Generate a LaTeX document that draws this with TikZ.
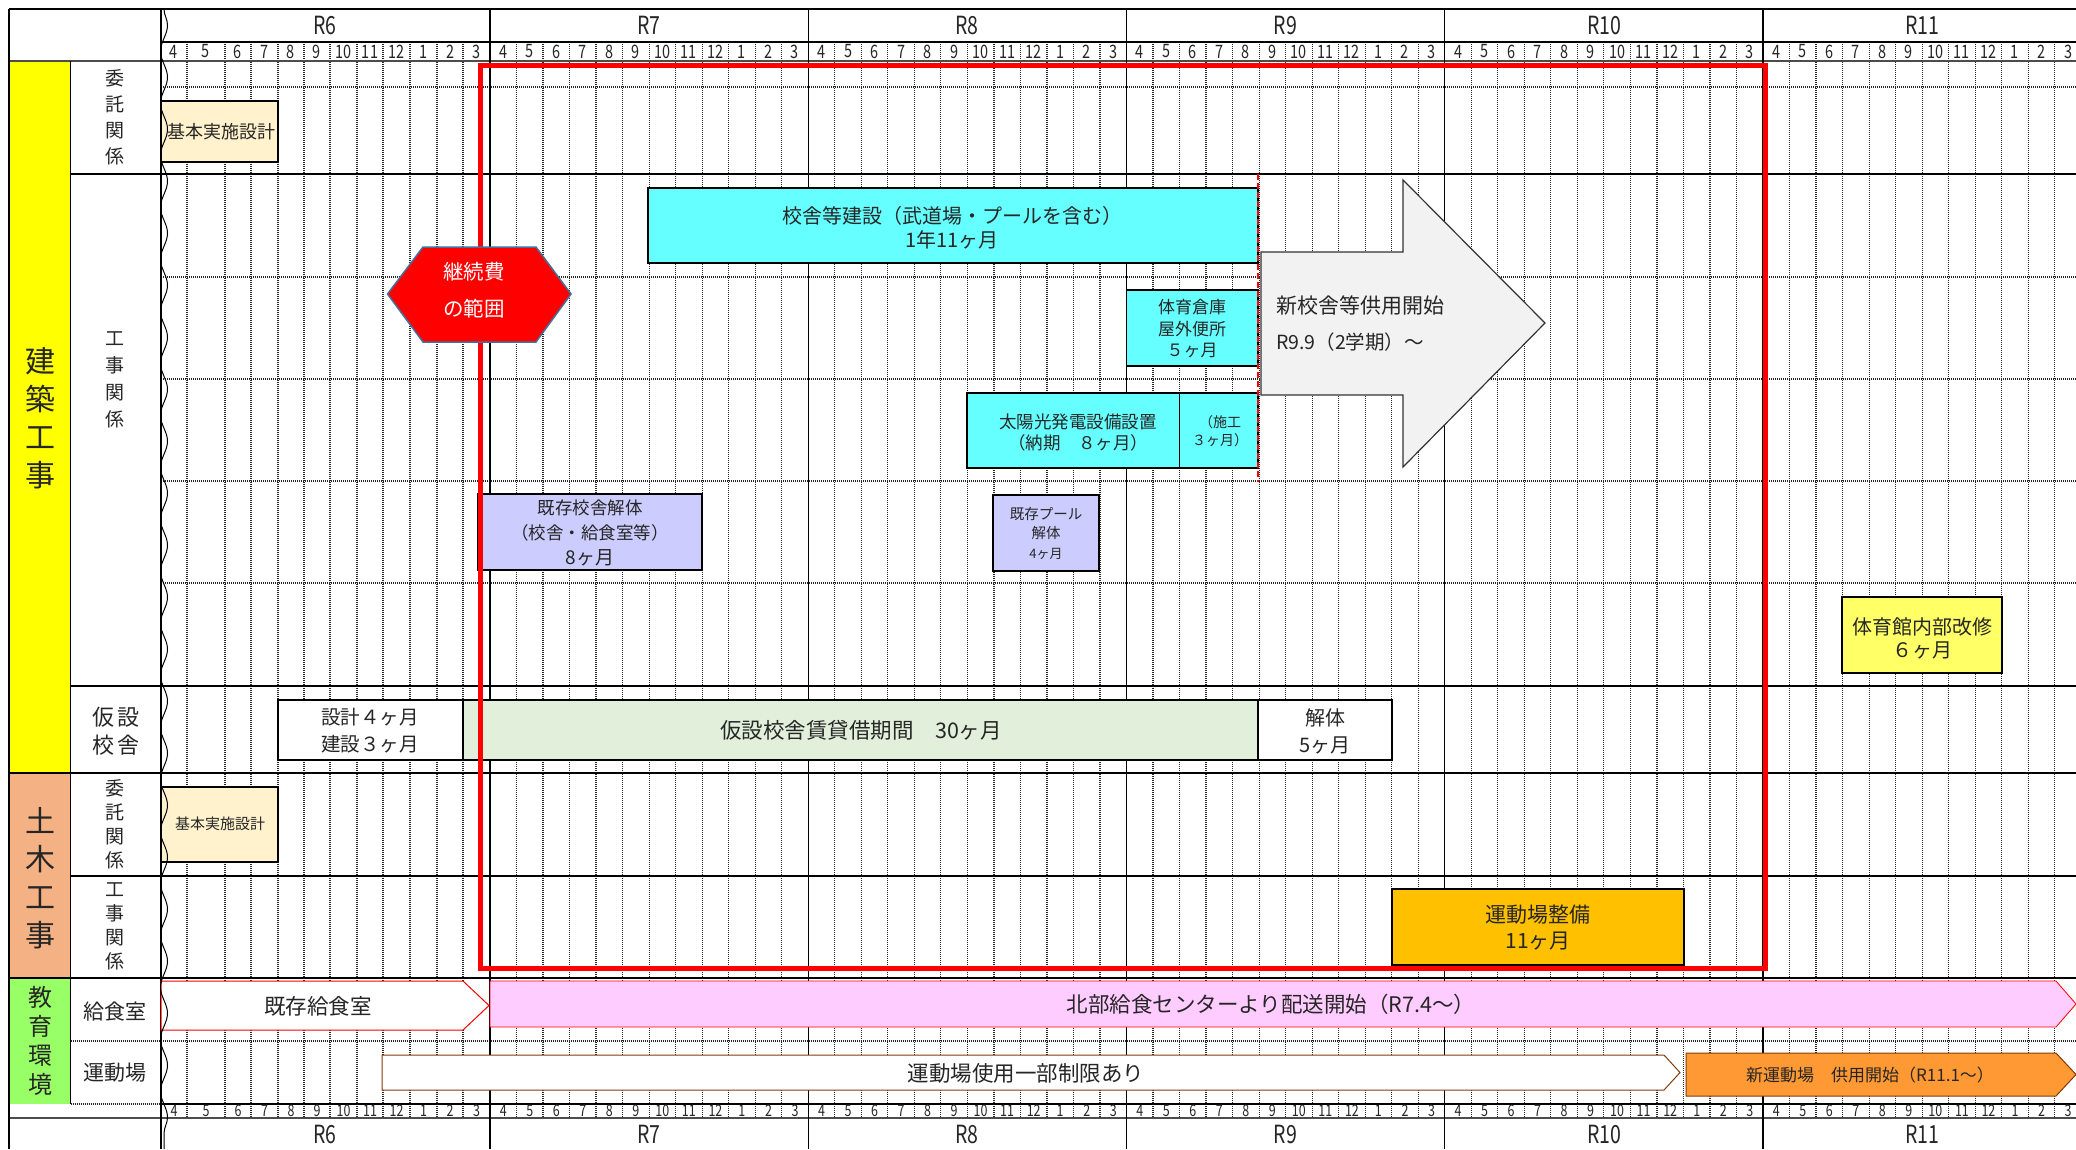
\documentclass[tikz,border=0pt]{standalone}
\usepackage{fontspec}
\setmainfont{Noto Sans CJK JP}
\newfontfamily\narrowfont[FakeStretch=0.78]{Noto Sans CJK JP}
\usetikzlibrary{decorations.pathmorphing}
\newcommand\fsz[2]{\fontsize{#1}{#2}\selectfont}
\definecolor{cYellow}{HTML}{FFFF00}
\definecolor{cSalmon}{HTML}{F4B183}
\definecolor{cGreen}{HTML}{99FF66}
\definecolor{cTan}{HTML}{FFF2CC}
\definecolor{cCyan}{HTML}{66FFFF}
\definecolor{cLav}{HTML}{CCCCFF}
\definecolor{cLgreen}{HTML}{E2EFDA}
\definecolor{cLyellow}{HTML}{FFFF66}
\definecolor{cGold}{HTML}{FFC000}
\definecolor{cPink}{HTML}{FFCCFF}
\definecolor{cOrange}{HTML}{FF9933}
\definecolor{cBrown}{HTML}{843C0C}
\definecolor{cHexb}{HTML}{41719C}
\definecolor{cArrow}{HTML}{F2F2F2}
\definecolor{cTxt}{HTML}{262626}
\begin{document}
\begin{tikzpicture}[x=1pt,y=-1pt,
  dotl/.style={draw=black!85,line width=1.2pt,dash pattern=on 1pt off 1pt},
  solidl/.style={draw=black,line width=1.2pt},
  thickl/.style={draw=black!70,line width=2pt},
  bar/.style={draw=black,line width=1.2pt},
  txt/.style={align=center,inner sep=0pt,text=cTxt},
  mnum/.style={inner sep=0pt,text=cTxt,font=\narrowfont\fsz{18.5}{18.5}},
  mnumb/.style={inner sep=0pt,text=cTxt,font=\narrowfont\fsz{16}{16}},
  yr/.style={inner sep=0pt,text=cTxt,font=\narrowfont\fsz{25}{25}}]
\useasboundingbox (0,0) rectangle (2076,1149);
\clip (0,0) rectangle (2076,1149);
\fill[white] (0,0) rectangle (2076,1149);
% left category colours
\fill[cYellow] (9,61) rectangle (70.5,773);
\fill[cSalmon] (9,773) rectangle (70.5,978);
\fill[cGreen] (9,978) rectangle (70.5,1104);
% month grid (dotted)
\foreach \x in {187,225,251,278,304,330,357,383,410,437,463}
  \draw[dotl] (\x,42) -- (\x,1118);
\foreach \k in {0,...,4}
  \foreach \j in {1,...,11}
    \draw[dotl] ({490+318.25*\k+26.52*\j},42) -- ({490+318.25*\k+26.52*\j},1118);
\foreach \y in {87,277,379,481,583}
  \draw[dotl] (161,\y) -- (2076,\y);
\draw[dotl] (70.5,1041) -- (2076,1041);
\draw[dotl] (70.5,1104) -- (161,1104);
% solid lines
\draw[solidl] (9,9) -- (2076,9);
\draw[solidl] (161,42) -- (2076,42);
\draw[thickl] (9,61) -- (2076,61);
\draw[solidl] (70.5,174) -- (2076,174);
\draw[solidl] (70.5,686) -- (2076,686);
\draw[solidl] (9,773) -- (2076,773);
\draw[solidl] (70.5,876) -- (2076,876);
\draw[solidl] (9,978) -- (2076,978);
\draw[solidl] (161,1104) -- (2076,1104);
\draw[thickl] (9,1118) -- (2076,1118);
\draw[solidl] (9,9) -- (9,1149);
\draw[solidl] (70.5,61) -- (70.5,1104);
\draw[solidl] (161,9) -- (161,1149);
\foreach \x in {490,808.25,1126.5,1444.75,1763}
  \draw[solidl] (\x,9) -- (\x,1149);
% month numbers
\foreach \x/\m [count=\i] in {174/4,206/5,238/6,264.5/7,291/8,317/9,343.5/10,370/11,396.5/12,423.5/1,450/2,476.5/3}{
  \node[mnum] (tm0-\i) at (\x,51.5) {\m};
  \node[mnumb] (bm0-\i) at (\x,1111) {\m};
}
\foreach \k in {1,...,5}{
  \foreach \m [count=\j from 0] in {4,5,6,7,8,9,10,11,12,1,2,3}{
    \pgfmathsetmacro\xx{490+318.25*(\k-1)+26.52*(\j+0.5)}
    \node[mnum] (tm\k-\j) at (\xx,51.5) {\m};
    \node[mnumb] (bm\k-\j) at (\xx,1111) {\m};
  }
}
% year labels
\foreach \x/\r [count=\i] in {325/R6,649/R7,967/R8,1285.5/R9,1604/R10,1922/R11}{
  \node[yr] (ty\i) at (\x,25.5) {\r};
  \node[yr] (by\i) at (\x,1134) {\r};
}
% left labels
\node[txt,font=\fsz{30}{38}] (kenchiku) at (40,418) {建\\築\\工\\事};
\node[txt,font=\fsz{30}{38}] (doboku) at (40,878) {土\\木\\工\\事};
\node[txt,font=\fsz{24}{29}] (kyoiku) at (40,1041) {教\\育\\環\\境};
\node[txt,font=\fsz{19}{26}] (itaku1) at (115,117) {委\\託\\関\\係};
\node[txt,font=\fsz{19}{27}] (koji1) at (115,380) {工\\事\\関\\係};
\node[txt,font=\fsz{22}{28}] (kasetsu) at (116,731) {仮\hspace{4pt}設\\校\hspace{4pt}舎};
\node[txt,font=\fsz{19}{24}] (itaku2) at (115,824) {委\\託\\関\\係};
\node[txt,font=\fsz{19}{24}] (koji2) at (115,926) {工\\事\\関\\係};
\node[txt,font=\fsz{21}{21}] (kyushoku) at (115,1012) {給食室};
\node[txt,font=\fsz{21}{21}] (undojo) at (115,1073) {運動場};
% bars
\draw[bar,fill=cTan] (161,101) rectangle (278,162);
\node[txt,font=\fsz{18}{18}] (kihon1) at (221,131.5) {基本実施設計};
\draw[bar,fill=cCyan] (648,188) rectangle (1258,263);
\node[txt,font=\fsz{20}{24}] (kosha) at (952,228) {校舎等建設（武道場・プールを含む）\\1年11ヶ月};
\draw[bar,fill=cCyan] (1126.5,290) rectangle (1258,366);
\node[txt,font=\fsz{17}{21.5}] (soko) at (1192,329) {体育倉庫\\屋外便所\\５ヶ月};
\draw[bar,fill=cCyan] (967,393) rectangle (1258,468);
\draw[draw=black,line width=0.6pt] (1179.5,393) -- (1179.5,468);
\node[txt,font=\fsz{17.5}{21}] (taiyo) at (1078,432) {太陽光発電設備設置\\（納期　８ヶ月）};
\node[txt,font=\fsz{14}{18}] (seko) at (1220,431) {（施工\\３ヶ月）};
\draw[bar,fill=cLav] (478,494) rectangle (702,570);
\node[txt,font=\fsz{17.5}{25}] (kaitai) at (590,533) {既存校舎解体\\（校舎・給食室等）\\{\fsz{19}{25}8ヶ月}};
\draw[bar,fill=cLav] (993,495) rectangle (1099,571);
\node[txt,font=\fsz{14.5}{19.5}] (pool) at (1046,533) {既存プール\\解体\\{\fsz{13}{19.5}4ヶ月}};
\draw[bar,fill=cLyellow] (1842,597) rectangle (2002,673);
\node[txt,font=\fsz{20}{23}] (taiikukan) at (1922,638) {体育館内部改修\\６ヶ月};
\draw[bar,fill=white] (278,700) rectangle (463,760);
\node[txt,font=\fsz{19.5}{27}] (sekkei) at (370,731) {設計４ヶ月\\建設３ヶ月};
\draw[bar,fill=cLgreen] (463,700) rectangle (1258,760);
\node[txt,font=\fsz{21.5}{21.5}] (chintai) at (861,730) {仮設校舎賃貸借期間　30ヶ月};
\draw[bar,fill=white] (1258,700) rectangle (1392,760);
\node[txt,font=\fsz{20}{27}] (kaitai2) at (1325,731) {解体\\5ヶ月};
\draw[bar,fill=cTan] (161,787) rectangle (278,862);
\node[txt,font=\fsz{15}{15}] (kihon2) at (220,824) {基本実施設計};
\draw[bar,fill=cGold] (1392,889) rectangle (1684,965);
\node[txt,font=\fsz{21}{26}] (seibi) at (1538,928) {運動場整備\\11ヶ月};
% red frame
\draw[red,line width=5pt] (480,65) rectangle (1765,968);
% dashed red line
\draw[red,line width=1.8pt,dash pattern=on 6pt off 3pt] (1258,174) -- (1258,482);
% hexagon
\draw[fill=red,draw=cHexb,line width=1.5pt] (387.5,294) -- (423,247) -- (536,247) -- (571,294) -- (536,342) -- (423,342) -- cycle;
\node[txt,text=white,font=\fsz{20.5}{36.5}] (keizoku) at (474,290) {継続費\\の範囲};
% big arrow
\draw[fill=cArrow,draw=black!80,line width=1.2pt] (1261,252) -- (1403,252) -- (1403,180) -- (1545,323) -- (1403,467) -- (1403,395) -- (1261,395) -- cycle;
\node[txt,anchor=west,font=\fsz{21}{21}] (shin1) at (1276,306) {新校舎等供用開始};
\node[txt,anchor=west,font=\fsz{19.5}{19.5}] (shin2) at (1276,342) {R9.9（2学期）～};
% bottom rows
\draw[draw=red,fill=white,line width=1pt] (161,981) -- (463,981) -- (489,1005.5) -- (463,1030) -- (161,1030) -- cycle;
\node[txt,font=\fsz{21.5}{21.5}] (kison) at (318,1006) {既存給食室};
\draw[draw=red,fill=cPink,line width=0.8pt] (490,981) -- (2056,981) -- (2076,1004) -- (2056,1027) -- (490,1027) -- cycle;
\node[txt,font=\fsz{21.5}{21.5}] (hokubu) at (1271,1004) {北部給食センターより配送開始（R7.4～）};
\draw[draw=cBrown,fill=white,line width=1pt] (382,1055) -- (1664,1055) -- (1680,1072.5) -- (1664,1090) -- (382,1090) -- cycle;
\node[txt,font=\fsz{21.5}{21.5}] (seigen) at (1026,1073) {運動場使用一部制限あり};
\draw[draw=cBrown,fill=cOrange,line width=1pt] (1686,1053) -- (2056,1053) -- (2076,1074.5) -- (2056,1096) -- (1686,1096) -- cycle;
\node[txt,font=\fsz{17}{17}] (shinundo) at (1870,1075) {新運動場　供用開始（R11.1～）};
% wavy break line
\draw[black,line width=1pt,decorate,decoration={snake,segment length=52pt,amplitude=3.5pt}] (164,9) -- (164,1149);
\end{tikzpicture}
\end{document}
